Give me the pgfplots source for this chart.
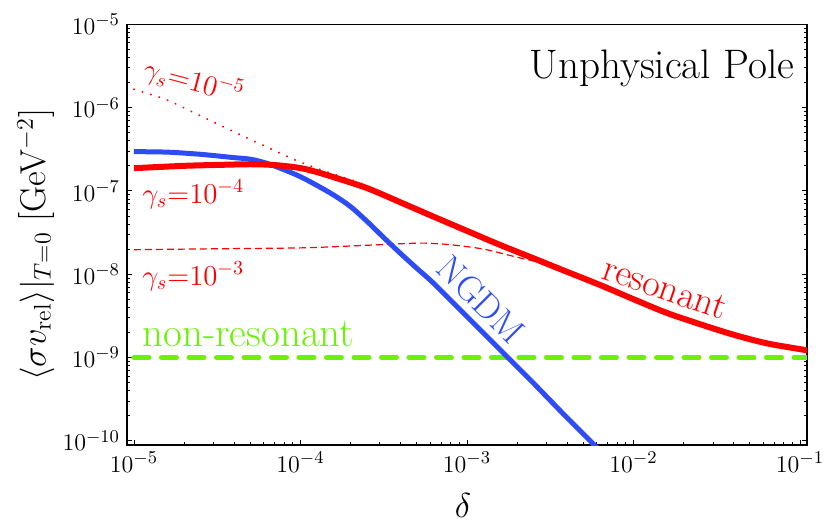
\documentclass[border=0pt]{standalone}
\usepackage{pgfplots}
\pgfplotsset{compat=1.18}
\definecolor{myred}{rgb}{1,0,0}
\definecolor{myblue}{rgb}{0.18,0.3,0.96}
\definecolor{mygreen}{rgb}{0.42,0.95,0.02}
\begin{document}
\begin{tikzpicture}
\path[use as bounding box] (-63.5pt,-41pt) rectangle (351pt,222.5pt);
\begin{axis}[
  at={(0,0)}, anchor=south west,
  scale only axis, width=340pt, height=210.35pt,
  xmode=log, ymode=log,
  xmin=9.08e-6, xmax=0.1101, ymin=8.9e-11, ymax=1e-5,
  xtick={1e-5,1e-4,1e-3,1e-2,1e-1},
  ytick={1e-10,1e-9,1e-8,1e-7,1e-6,1e-5},
  tick align=inside,
  xtick pos=bottom, ytick pos=both,
  major tick length=2.5pt, minor tick length=1.4pt,
  tick style={black, line width=0.45pt},
  axis line style={line width=0.65pt},
  ticklabel style={font=\fontsize{13}{15}\selectfont},
  clip mode=individual,
  xlabel={$\delta$},
  xlabel style={at={(rel axis cs:0.494,-0.1426)}, anchor=center, inner sep=0pt, font=\fontsize{19}{21}\selectfont},
  ylabel={$\langle\sigma v_{\mathrm{rel}}\rangle|_{T=0}$ [GeV$^{-2}$]},
  ylabel style={at={(rel axis cs:-0.1338,0.4762)}, anchor=center, rotate=0, inner sep=0pt, font=\fontsize{18}{20}\selectfont},
]
% red dotted gamma = 1e-5
\addplot[myred, line width=1pt, dash pattern=on 0.1pt off 4.3pt, line cap=round, smooth] coordinates {
(1e-5,1.66e-6) (1.585e-5,1.23e-6) (2.512e-5,7.94e-7) (3.981e-5,5.13e-7)
(6.31e-5,3.35e-7) (1e-4,2.21e-7) (1.585e-4,1.585e-7) (2.239e-4,1.26e-7)
(3.162e-4,9.0e-8) (3.981e-4,7.24e-8) (6.31e-4,4.9e-8) (1e-3,3.31e-8)
(1.585e-3,2.24e-8) (2.512e-3,1.55e-8) (3.981e-3,1.07e-8) (6.31e-3,7.41e-9)
(1e-2,5.01e-9) (1.585e-2,3.43e-9) (2.512e-2,2.51e-9) (3.981e-2,1.88e-9)
(6.31e-2,1.48e-9) (0.1,1.26e-9) (0.115,1.2e-9)
};
% red dashed gamma = 1e-3
\addplot[myred, line width=0.6pt, dash pattern=on 3.5pt off 2pt, smooth] coordinates {
(1e-5,1.97e-8) (3.162e-5,2.02e-8) (1e-4,2.07e-8) (1.995e-4,2.18e-8)
(3.981e-4,2.32e-8) (5.623e-4,2.36e-8) (7.943e-4,2.26e-8) (1.259e-3,2.0e-8)
(1.995e-3,1.6e-8) (3.162e-3,1.29e-8) (3.981e-3,1.07e-8) (6.31e-3,7.41e-9)
(1e-2,5.01e-9) (1.585e-2,3.43e-9) (2.512e-2,2.51e-9) (3.981e-2,1.88e-9)
(6.31e-2,1.48e-9) (0.1,1.26e-9) (0.115,1.2e-9)
};
% green non-resonant
\addplot[mygreen, line width=2.5pt, dash pattern=on 7.5pt off 6.25pt, line cap=round] coordinates {
(1e-5,1e-9) (0.115,1e-9)
};
% blue NGDM
\addplot[myblue, line width=2.5pt, smooth] coordinates {
(1e-5,2.96e-7) (1.585e-5,2.92e-7) (2.512e-5,2.75e-7) (3.981e-5,2.51e-7)
(5.012e-5,2.40e-7) (6.31e-5,2.14e-7) (7.943e-5,1.80e-7) (1e-4,1.48e-7)
(1.259e-4,1.16e-7) (1.585e-4,8.9e-8) (1.995e-4,6.5e-8) (2.512e-4,4.3e-8)
(3.162e-4,2.75e-8) (3.981e-4,1.78e-8) (5.012e-4,1.17e-8) (6.31e-4,7.76e-9)
(1e-3,3.09e-9) (1.585e-3,1.23e-9) (2.512e-3,4.9e-10) (3.981e-3,1.9e-10)
(6.31e-3,7.6e-11)
};
% red resonant gamma = 1e-4
\addplot[myred, line width=3pt, smooth] coordinates {
(1e-5,1.875e-7) (1.995e-5,2.0e-7) (3.162e-5,2.05e-7) (5.012e-5,2.09e-7)
(7.08e-5,2.04e-7) (1e-4,1.88e-7) (1.259e-4,1.68e-7) (1.585e-4,1.46e-7)
(2.512e-4,1.08e-7) (3.981e-4,7.3e-8) (6.31e-4,4.9e-8) (1e-3,3.31e-8)
(1.585e-3,2.24e-8) (2.512e-3,1.55e-8) (3.981e-3,1.07e-8) (6.31e-3,7.41e-9)
(1e-2,5.01e-9) (1.585e-2,3.43e-9) (2.512e-2,2.51e-9) (3.981e-2,1.88e-9)
(6.31e-2,1.48e-9) (0.1,1.26e-9) (0.115,1.2e-9)
};
% annotations
\node[anchor=base east, inner sep=0pt, font=\fontsize{20.6}{22}\selectfont] at (rel axis cs:0.982,0.872) {Unphysical Pole};
\node[myred, rotate=-15, inner sep=0pt, font=\fontsize{14}{16}\selectfont] at (rel axis cs:0.098,0.863) {$\gamma_s{=}10^{-5}$};
\node[myred, anchor=base west, inner sep=0pt, font=\fontsize{14.5}{16}\selectfont] at (rel axis cs:0.022,0.575) {$\gamma_s{=}10^{-4}$};
\node[myred, anchor=base west, inner sep=0pt, font=\fontsize{14.5}{16}\selectfont] at (rel axis cs:0.022,0.380) {$\gamma_s{=}10^{-3}$};
\node[mygreen, anchor=base west, inner sep=0pt, font=\fontsize{20.5}{22}\selectfont] at (rel axis cs:0.022,0.234) {non-resonant};
\node[myblue, rotate=-45, inner sep=0pt, font=\fontsize{18}{20}\selectfont] at (rel axis cs:0.521,0.345) {NGDM};
\node[myred, rotate=-19, inner sep=0pt, font=\fontsize{19}{21}\selectfont] at (rel axis cs:0.791,0.372) {resonant};
\end{axis}
\end{tikzpicture}
\end{document}
